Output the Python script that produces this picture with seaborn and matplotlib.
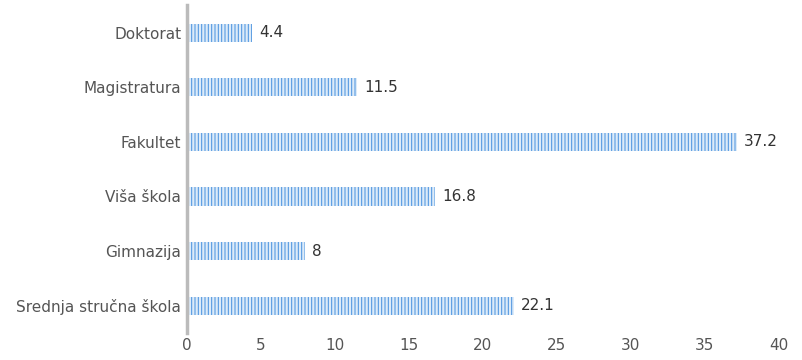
import matplotlib
matplotlib.use('Agg')
import matplotlib.pyplot as plt
import seaborn as sns
import pandas as pd

kategorije = ['Doktorat', 'Magistratura', 'Fakultet', 'Viša škola', 'Gimnazija', 'Srednja stručna škola']
vrijednosti = [4.4, 11.5, 37.2, 16.8, 8, 22.1]
oznake = ['4.4', '11.5', '37.2', '16.8', '8', '22.1']

df = pd.DataFrame({'kategorija': kategorije, 'vrijednost': vrijednosti})

sns.set_style('white')
plt.rcParams['font.family'] = ['DejaVu Sans']
plt.rcParams['hatch.linewidth'] = 0.75

fig = plt.figure(figsize=(8.02, 3.6), dpi=100)
ax = fig.add_axes([0.233, 0.075, 0.738, 0.91])

sns.barplot(data=df, x='vrijednost', y='kategorija', orient='h', ax=ax,
            color='#dcebf9', edgecolor='#4f95e0', linewidth=0, width=0.33,
            hatch='|||||', saturation=1)

ax.bar_label(ax.containers[0], labels=oznake, padding=5, fontsize=11, color='#333333')

ax.set_xlim(0, 40)
ax.set_xticks(range(0, 41, 5))
ax.set_xlabel('')
ax.set_ylabel('')
ax.tick_params(axis='both', labelsize=11, colors='#555555', length=0)
ax.tick_params(axis='y', pad=4)
for s in ['top', 'right', 'bottom']:
    ax.spines[s].set_visible(False)
ax.spines['left'].set_color('#bbbbbb')
ax.spines['left'].set_linewidth(2.5)

fig.savefig('out.png', dpi=100)
